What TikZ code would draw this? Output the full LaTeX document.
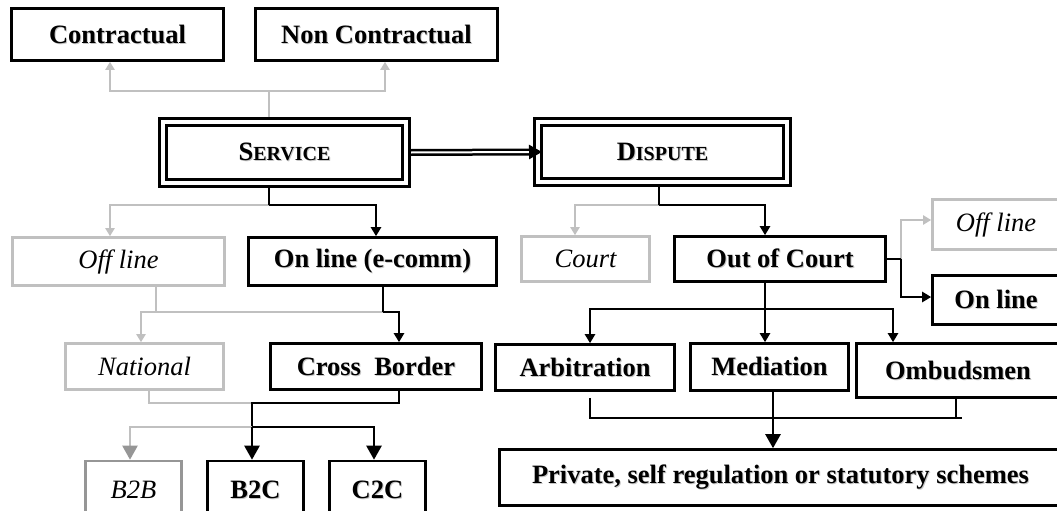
\documentclass[tikz,border=0pt]{standalone}
\usepackage{fontspec}
\setmainfont{Liberation Serif}
\usepackage{tikz}
\usetikzlibrary{arrows.meta}
\usepackage{xcolor}
\definecolor{lgray}{RGB}{192,192,192}
\definecolor{mgray}{RGB}{150,150,150}
\newcommand{\shd}[1]{\rlap{\kern1pt\raisebox{-1pt}{\textcolor{black!22}{#1}}}#1}
\newcommand{\smc}{\fontsize{20}{22}\selectfont}

\begin{document}
\begin{tikzpicture}[x=1pt, y=-1pt,
  box/.style={draw, line width=2.6pt, inner sep=0pt, font=\fontsize{26.5}{30}\selectfont\bfseries},
  gbox/.style={box, draw=lgray, font=\fontsize{26.5}{30}\selectfont\itshape},
  dbox/.style={box, double, double distance=4.4pt, outer sep=4.8pt},
  bl/.style={line width=2.4pt},
  gl/.style={line width=2.2pt, draw=lgray},
  ba/.style={bl, -{Triangle[length=9pt,width=10pt]}},
  bba/.style={bl, -{Triangle[length=14pt,width=15pt]}},
  ga/.style={gl, -{Triangle[length=8pt,width=9pt]}},
  dbl/.style={double, line width=2.5pt, double distance=2pt, -{Triangle[length=13pt,width=14pt]}, shorten >=-9pt}]
\useasboundingbox (0,0) rectangle (1057,511);
\clip (0,0) rectangle (1057,511);

\node[box, minimum width=212pt, minimum height=52pt] (contr) at (117.5,34.5) {\shd{Contractual}};
\node[box, minimum width=242pt, minimum height=52pt] (noncontr) at (376.5,34.5) {\shd{Non Contractual}};
\node[dbox, minimum width=243.4pt, minimum height=61.4pt] (service) at (284.5,152.5) {\shd{S{\smc ERVICE}}};
\node[dbox, minimum width=249.4pt, minimum height=60.4pt] (dispute) at (662.5,152) {\shd{D{\smc ISPUTE}}};

\node[gbox, minimum width=212pt, minimum height=48pt] (offl) at (118.5,261.5) {Off line};
\node[box, minimum width=248pt, minimum height=48pt] (online) at (372.5,261.5) {\shd{On line (e-comm)}};
\node[gbox, minimum width=128pt, minimum height=45pt] (court) at (585.5,259) {Court};
\node[box, minimum width=211pt, minimum height=45pt] (outcourt) at (780,259) {\shd{Out of Court}};
\node[gbox, minimum width=127pt, minimum height=50pt] (offr) at (996,224.5) {Off line};
\node[box, minimum width=127pt, minimum height=49pt] (onr) at (996,300) {\shd{On line}};

\node[gbox, minimum width=158pt, minimum height=46pt] (national) at (144.5,366.5) {National};
\node[box, minimum width=211pt, minimum height=46pt] (cross) at (376,366.5) {\shd{Cross\ \ Border}};
\node[box, minimum width=179pt, minimum height=46pt] (arbit) at (585,367.5) {\shd{Arbitration}};
\node[box, minimum width=158pt, minimum height=47pt] (media) at (769.5,367) {\shd{Mediation}};
\node[box, minimum width=203pt, minimum height=54pt] (ombud) at (958,370.5) {\shd{Ombudsmen}};

\node[gbox, draw=mgray, minimum width=96pt, minimum height=58pt] (b2b) at (133.5,490) {B2B};
\node[box, minimum width=96pt, minimum height=58pt] (b2c) at (255.5,490) {\shd{B2C}};
\node[box, minimum width=96pt, minimum height=58pt] (c2c) at (377.5,490) {\shd{C2C}};
\node[box, minimum width=562pt, minimum height=56pt] (private) at (780.5,477.5) {\shd{Private, self regulation or statutory schemes}};

\coordinate (jtop) at (269,91);
\draw[gl] (service.north -| jtop) -- (jtop);
\draw[ga] (jtop) -| ([xshift=-7.5pt]contr.south);
\draw[ga] (jtop) -| ([xshift=8.5pt]noncontr.south);
\draw[dbl] (service.east) -- (dispute.west);

\coordinate (jsv) at (269,205);
\draw[ga] (jsv) -| ([xshift=-8.5pt]offl.north);
\draw[bl] (service.south -| jsv) -- (jsv);
\draw[ba] (jsv) -| ([xshift=3.5pt]online.north);

\coordinate (jdp) at (659,205);
\draw[ga] (jdp) -| ([xshift=-10.5pt]court.north);
\draw[bl] (dispute.south -| jdp) -- (jdp);
\draw[ba] (jdp) -| ([xshift=-15pt]outcourt.north);

\coordinate (jor) at (901,259);
\draw[ga] (jor) |- ([yshift=4.5pt]offr.west);
\draw[bl] (outcourt.east) -- (jor);
\draw[ba] (jor) |- ([yshift=3pt]onr.west);

\coordinate (joc) at (765,309);
\draw[ba] (outcourt.south -| joc) -- (media.north -| joc);
\draw[ba] (joc) -| ([xshift=5pt]arbit.north);
\draw[ba] (joc) -| ([xshift=-65pt]ombud.north);

\coordinate (jbot) at (773,418);
\draw[bl] ([xshift=5pt,yshift=-6pt]arbit.south) |- ([xshift=4pt]ombud.south |- jbot);
\draw[bl] ([xshift=-2pt]ombud.south) -- ([xshift=-2pt]ombud.south |- jbot);
\draw[bba] (media.south -| jbot) -- (private.north -| jbot);

\coordinate (jof) at (156,312);
\coordinate (jon) at (383,312);
\draw[gl] ([xshift=37.5pt]offl.south) -- (jof) -- (jon);
\draw[ga] (jof) -| ([xshift=-3.5pt]national.north);
\draw[bl] ([xshift=10.5pt]online.south) -- (jon);
\draw[ba] (jon) -| ([xshift=23pt]cross.north);

\coordinate (jnc) at (252,403);
\coordinate (jb) at (252,427);
\draw[gl] ([xshift=4.5pt]national.south) |- (jnc);
\draw[bl] ([xshift=23pt]cross.south) |- (jnc) -- (jb);
\draw[gl, -{Triangle[length=14pt,width=15pt,color=mgray]}] (jb) -| ([xshift=-3.5pt]b2b.north);
\draw[bba] (jb) -- (b2c.north -| jb);
\draw[bba] (jb) -| ([xshift=-3.5pt]c2c.north);
\end{tikzpicture}
\end{document}
